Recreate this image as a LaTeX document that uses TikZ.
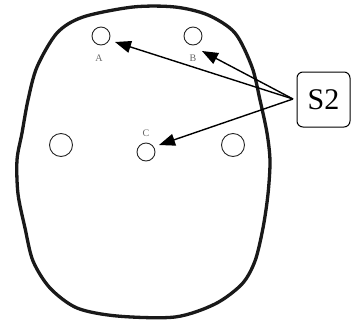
\documentclass[tikz,border=0pt]{standalone}
\usepackage{fontspec}
\setmainfont{Liberation Serif}
\usetikzlibrary{arrows.meta}
\begin{document}
\begin{tikzpicture}[x=1pt,y=-1pt,
  hole/.style={circle,draw=black!85,line width=0.9pt,inner sep=0pt},
  lbl/.style={font=\fontsize{10}{11}\selectfont,text=black!60,inner sep=0pt},
  ptr/.style={line width=1.4pt,-{Triangle[length=16pt,width=12pt]}}]
\useasboundingbox (0,0) rectangle (351,322);
% outer outline
\draw[line width=3.3pt,black!90] plot[smooth cycle,tension=0.5] coordinates {
  (175,7) (208,15) (235,33) (252,67) (260,100) (267,133) (270,161) (268,194)
  (263,228) (255,261) (242,284) (215,304) (175,317) (117,316) (77,308) (50,288)
  (33,261) (25,228) (18,194) (17,160) (22,133) (28,100) (37,67) (57,33) (83,17) (133,7)};
% holes
\node[hole,minimum size=18pt] (A) at (101,36) {};
\node[hole,minimum size=18pt] (B) at (193,36) {};
\node[hole,minimum size=23pt] (L) at (61,145) {};
\node[hole,minimum size=18pt] (C) at (146,152) {};
\node[hole,minimum size=23pt] (R) at (233,145) {};
% labels
\node[lbl] (la) at (99,58) {A};
\node[lbl] (lb) at (193,58) {B};
\node[lbl] (lc) at (146,133) {C};
% S2 box
\node[draw,line width=1pt,rounded corners=6pt,minimum width=53pt,minimum height=55pt,
  font=\fontsize{30}{32}\selectfont,inner sep=0pt] (S) at (323.5,99.5) {S2};
\coordinate (src) at (293,99);
\coordinate (ta) at (115,42);
\coordinate (tb) at (202,51);
\coordinate (tc) at (159,145);
\draw[ptr] (src) -- (ta);
\draw[ptr] (src) -- (tb);
\draw[ptr] (src) -- (tc);
\end{tikzpicture}
\end{document}
